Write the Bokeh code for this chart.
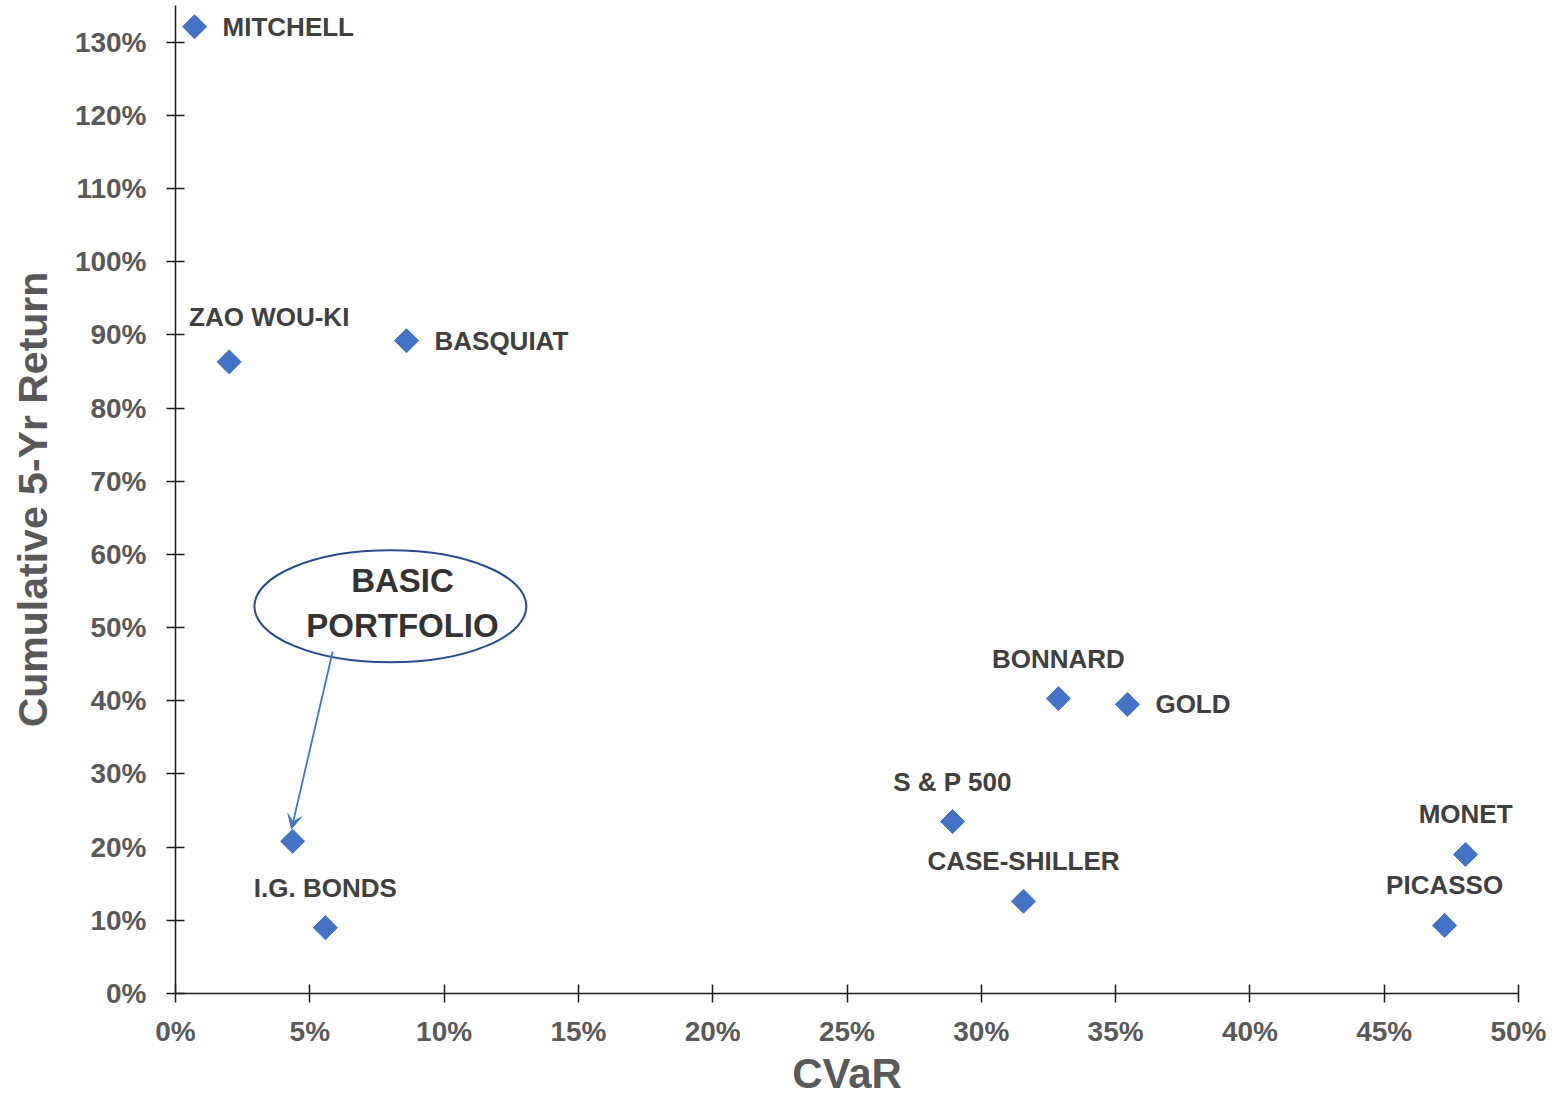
from bokeh.plotting import figure
from bokeh.models import (ColumnDataSource, FixedTicker, NumeralTickFormatter,
                          Range1d, Arrow, VeeHead, Label)
from bokeh.core.properties import value
from bokeh.embed import file_html
from bokeh.resources import INLINE
import math

# ---- data ----
names = ["MITCHELL", "ZAO WOU-KI", "BASQUIAT", "BASIC PORTFOLIO", "I.G. BONDS",
         "S & P 500", "CASE-SHILLER", "BONNARD", "GOLD", "MONET", "PICASSO"]
cvar = [0.0071, 0.020, 0.086, 0.0436, 0.0558, 0.2893, 0.3157, 0.3287, 0.3544, 0.4803, 0.4725]
ret = [1.321, 0.863, 0.892, 0.208, 0.090, 0.235, 0.126, 0.403, 0.395, 0.190, 0.093]
x_ticks = [0, 0.05, 0.10, 0.15, 0.20, 0.25, 0.30, 0.35, 0.40, 0.45, 0.50]
y_ticks = [0, 0.1, 0.2, 0.3, 0.4, 0.5, 0.6, 0.7, 0.8, 0.9, 1.0, 1.1, 1.2, 1.3]

# label placement (style)
placement = {"MITCHELL": "right", "ZAO WOU-KI": "above_right", "BASQUIAT": "right",
             "BASIC PORTFOLIO": "none", "I.G. BONDS": "above", "S & P 500": "above",
             "CASE-SHILLER": "above", "BONNARD": "above", "GOLD": "right",
             "MONET": "above", "PICASSO": "above"}

FONT = "Liberation Sans"
TICK_COLOR = "#595959"
LABEL_COLOR = "#404040"
BLUE = "#4472C4"

p = figure(width=1564, height=1100, output_backend="svg", toolbar_location=None,
           x_range=Range1d(0, 0.5), y_range=Range1d(0, 1.35),
           min_border_left=175, min_border_right=46, min_border_top=5, min_border_bottom=107)
p.outline_line_color = None
p.xgrid.visible = False
p.ygrid.visible = False
p.background_fill_color = "white"
p.border_fill_color = "white"

for ax in (p.xaxis[0], p.yaxis[0]):
    ax.axis_line_color = "#1a1a1a"
    ax.axis_line_width = 1.5
    ax.major_tick_line_color = "#1a1a1a"
    ax.major_tick_line_width = 1.5
    ax.major_tick_in = 9
    ax.major_tick_out = 9
    ax.minor_tick_line_color = None
    ax.major_label_text_font = FONT
    ax.major_label_text_font_style = "bold"
    ax.major_label_text_font_size = "28px"
    ax.major_label_text_color = TICK_COLOR
    ax.axis_label_text_font = FONT
    ax.axis_label_text_font_style = "bold"
    ax.axis_label_text_color = TICK_COLOR
    ax.formatter = NumeralTickFormatter(format="0%")

p.xaxis.ticker = FixedTicker(ticks=x_ticks)
p.yaxis.ticker = FixedTicker(ticks=y_ticks)
p.xaxis.major_label_standoff = 13
p.yaxis.major_label_standoff = 20
p.xaxis.axis_label = "CVaR"
p.yaxis.axis_label = "Cumulative 5-Yr Return"
p.xaxis.axis_label_text_font_size = "42px"
p.yaxis.axis_label_text_font_size = "41px"
p.xaxis.axis_label_standoff = 0
p.yaxis.axis_label_standoff = 16

src = ColumnDataSource(dict(x=cvar, y=ret, name=names))
p.scatter("x", "y", source=src, marker="square", angle=math.pi / 4, size=17,
          fill_color=BLUE, line_color=BLUE)

# point labels
lx, ly, lt, xo, yo, al = [], [], [], [], [], []
for n, x, y in zip(names, cvar, ret):
    pl = placement[n]
    if pl == "none":
        continue
    lx.append(x); ly.append(y); lt.append(n)
    if pl == "right":
        xo.append(28); yo.append(0); al.append("left")
    elif pl == "above":
        xo.append(0); yo.append(-40); al.append("center")
    else:
        xo.append(40); yo.append(-45); al.append("center")
lsrc = ColumnDataSource(dict(x=lx, y=ly, text=lt, xo=xo, yo=yo, al=al))
p.text("x", "y", text="text", source=lsrc, x_offset="xo", y_offset="yo",
       text_align="al", text_baseline="middle", text_font=value(FONT),
       text_font_style="bold", text_font_size="26px", text_color=LABEL_COLOR)

# annotation: ellipse + text + arrow
p.ellipse(x=[0.080], y=[0.529], width=272, height=112, width_units="screen",
          height_units="screen", fill_color=None, line_color="#2F4A8C", line_width=2)
p.add_layout(Label(x=0.0845, y=0.565, text="BASIC", text_align="center",
                   text_baseline="middle", text_font=FONT, text_font_style="bold",
                   text_font_size="33px", text_color="#333333"))
p.add_layout(Label(x=0.0845, y=0.503, text="PORTFOLIO", text_align="center",
                   text_baseline="middle", text_font=FONT, text_font_style="bold",
                   text_font_size="33px", text_color="#333333"))
p.add_layout(Arrow(x_start=0.0585, y_start=0.467, x_end=0.0432, y_end=0.225,
                   line_color=BLUE, line_width=1.8,
                   end=VeeHead(size=14, fill_color=BLUE, line_color=BLUE)))

open("out.html", "w").write(file_html(p, INLINE))
